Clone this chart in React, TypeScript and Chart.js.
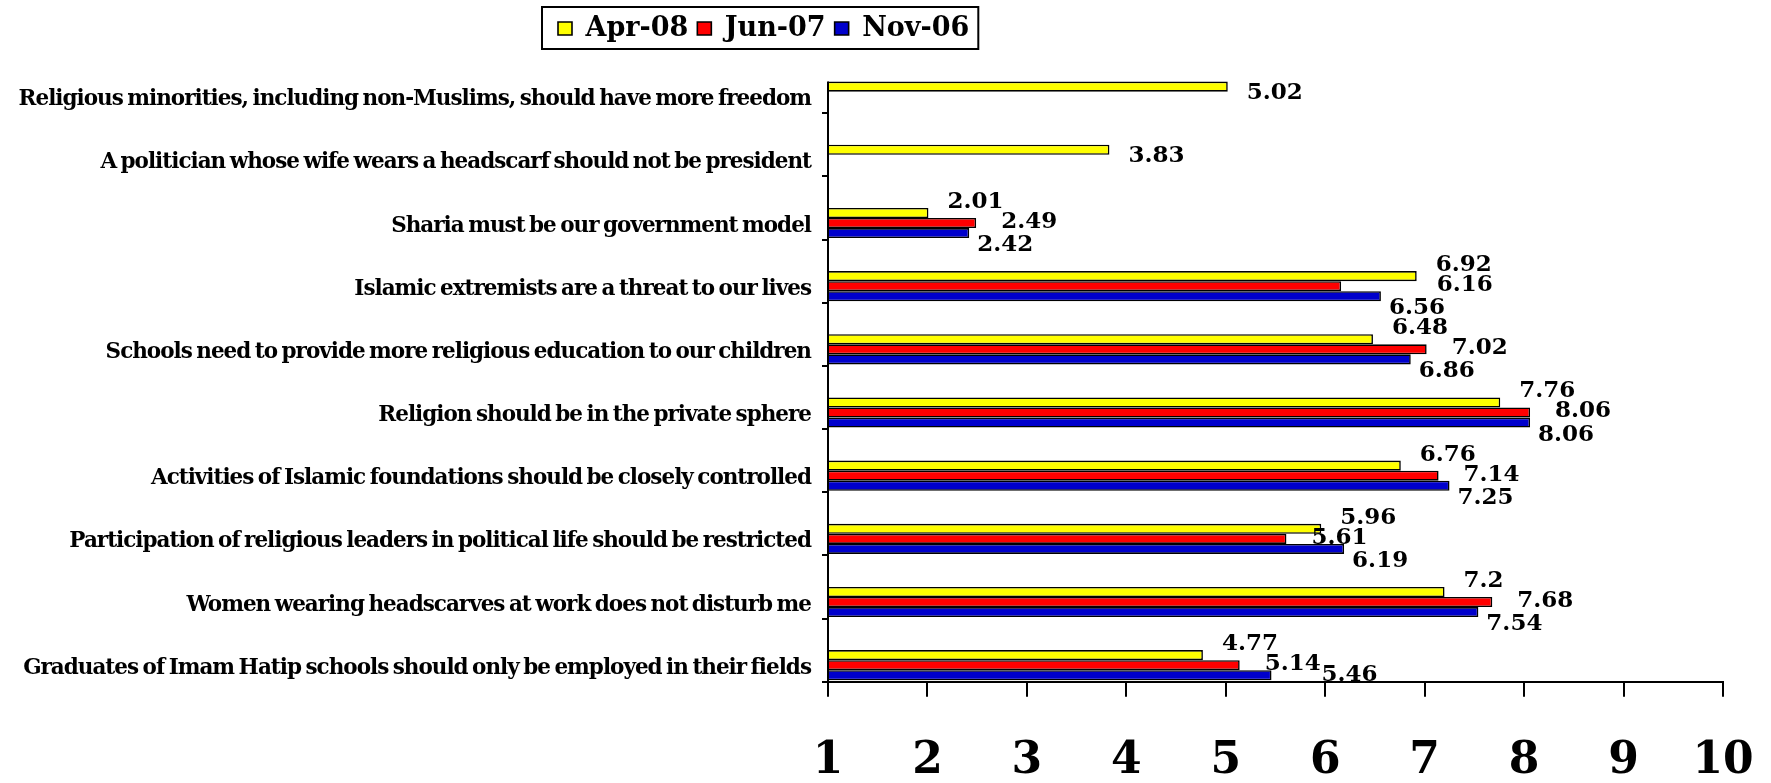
import React, { useEffect, useRef } from 'react';
import { Chart, registerables } from 'chart.js';

Chart.register(...registerables);

const categories = [
  'Religious minorities, including non-Muslims, should have more freedom',
  'A politician whose wife wears a headscarf should not be president',
  'Sharia must be our government model',
  'Islamic extremists are a threat to our lives',
  'Schools need to provide more religious education to our children',
  'Religion should be in the private sphere',
  'Activities of Islamic foundations should be closely controlled',
  'Participation of religious leaders in political life should be restricted',
  'Women wearing headscarves at work does not disturb me',
  'Graduates of Imam Hatip schools should only be employed in their fields',
];

const seriesNames = ['Apr-08', 'Jun-07', 'Nov-06'];
const apr08: (number | null)[] = [5.02, 3.83, 2.01, 6.92, 6.48, 7.76, 6.76, 5.96, 7.2, 4.77];
const jun07: (number | null)[] = [null, null, 2.49, 6.16, 7.02, 8.06, 7.14, 5.61, 7.68, 5.14];
const nov06: (number | null)[] = [null, null, 2.42, 6.56, 6.86, 8.06, 7.25, 6.19, 7.54, 5.46];
const xTicks = [1, 2, 3, 4, 5, 6, 7, 8, 9, 10];

const seriesColors = ['#FFFF00', '#FF0000', '#0000CC'];
const FONT = "'DejaVu Serif', 'Liberation Serif', serif";
const SPACERS = 3;
const HAS_LS =
  typeof CanvasRenderingContext2D !== 'undefined' &&
  'letterSpacing' in CanvasRenderingContext2D.prototype;

const legendPlacement = {
  id: 'legendPlacement',
  beforeInit(chart: any) {
    const lg = chart.legend;
    if (lg) {
      const fit = lg.fit;
      lg.fit = function () {
        fit.call(this);
        this.height = 50;
      };
    }
  },
  beforeDraw(chart: any) {
    const lg = chart.legend;
    if (lg) {
      const shift = 549 - lg.left;
      lg.left += shift;
      lg.right += shift;
      lg.top = 6;
      lg.bottom = lg.top + lg.height;
    }
    const y = chart.scales.y;
    if (y && HAS_LS && !y._lsPatched) {
      const orig = y.drawLabels;
      y.drawLabels = function (area: any) {
        const ctx = this.ctx;
        const pl = ctx.letterSpacing;
        const pw = ctx.wordSpacing;
        ctx.letterSpacing = '-1px';
        ctx.wordSpacing = '-2px';
        orig.call(this, area);
        ctx.letterSpacing = pl;
        ctx.wordSpacing = pw;
      };
      y._lsPatched = true;
    }
  },
  afterDraw(chart: any) {
    const lg = chart.legend;
    if (!lg || !lg.lineWidths) return;
    const pad = lg.options.labels.padding;
    const x0 = lg.left + pad - 16;
    const x1 = lg.left + lg.lineWidths[0] + 9;
    const ctx = chart.ctx;
    ctx.save();
    ctx.strokeStyle = '#000';
    ctx.lineWidth = 2;
    ctx.strokeRect(x0, 7, x1 - x0, 42);
    ctx.restore();
  },
};

const axisAndLabels = {
  id: 'axisAndLabels',
  afterDatasetsDraw(chart: any) {
    const ctx = chart.ctx;
    const area = chart.chartArea;
    // value axis line (starts at the top of the first bar)
    const first = chart.getDatasetMeta(SPACERS).data[0];
    ctx.save();
    ctx.strokeStyle = '#000';
    ctx.lineWidth = 2;
    ctx.beginPath();
    ctx.moveTo(area.left, first ? first.y - first.height / 2 : area.top);
    ctx.lineTo(area.left, area.bottom);
    ctx.stroke();
    ctx.restore();

    const series = [apr08, jun07, nov06];
    const dxs = [19, 25, 8];
    const dys = [-11, -1, 12];
    ctx.save();
    ctx.font = `bold 23px ${FONT}`;
    ctx.fillStyle = '#000';
    ctx.textAlign = 'left';
    ctx.textBaseline = 'middle';
    const metas = series.map((_, s) => chart.getDatasetMeta(SPACERS + s));
    series.forEach((vals, s) => {
      vals.forEach((v, i) => {
        if (v == null) return;
        const el = metas[s].data[i];
        if (!el) return;
        const alone = series.every((o, k) => k === s || o[i] == null);
        let x = el.x + dxs[s];
        let y = el.y + (alone ? 6 : dys[s]);
        if (s === 1) {
          const yel = metas[0].data[i];
          if (yel && yel.x - el.x > 50) x = yel.x + 20;
        }
        if (y + 8 > area.bottom) {
          y = el.y;
          x = el.x + 50;
        }
        ctx.fillText(String(v), x, y);
      });
    });
    ctx.restore();
  },
};

export default function App() {
  const ref = useRef<HTMLCanvasElement | null>(null);

  useEffect(() => {
    document.body.style.margin = '0';
    const canvas = ref.current;
    if (!canvas) return;
    const spacers = Array.from({ length: SPACERS }, () => ({
      label: '',
      data: categories.map(() => null),
      backgroundColor: 'rgba(0,0,0,0)',
      borderWidth: 0,
    }));
    const series = [apr08, jun07, nov06].map((vals, s) => ({
      label: seriesNames[s],
      data: vals,
      backgroundColor: seriesColors[s],
      borderColor: '#000',
      borderWidth: 1.6,
      borderSkipped: false,
    }));
    const chart = new Chart(canvas, {
      type: 'bar',
      data: { labels: categories, datasets: [...spacers, ...series] as any },
      options: {
        indexAxis: 'y',
        responsive: false,
        animation: false,
        categoryPercentage: 0.955,
        barPercentage: 1,
        layout: { padding: { left: 0, right: 48, top: 0, bottom: 0 } },
        plugins: {
          tooltip: { enabled: false },
          legend: {
            display: true,
            position: 'top',
            align: 'start',
            labels: {
              filter: (item: any) => item.text !== '',
              color: '#000',
              boxWidth: 14,
              boxHeight: 13,
              padding: 9,
              font: { family: FONT, size: 27, weight: 'bold' },
            },
          },
        },
        scales: {
          x: {
            type: 'linear',
            min: 1,
            max: 10,
            afterBuildTicks: (scale: any) => {
              scale.ticks = xTicks.map((v) => ({ value: v }));
            },
            afterFit: (scale: any) => {
              scale.height = 101.3;
              scale.paddingLeft = 0;
              scale.paddingRight = 0;
            },
            grid: { drawOnChartArea: false, drawTicks: true, tickLength: 15, color: '#000', lineWidth: 2 },
            border: { display: true, color: '#000', width: 2 },
            ticks: {
              color: '#000',
              font: { family: FONT, size: 44, weight: 'bold' },
              padding: 38,
              maxRotation: 0,
              autoSkip: false,
            },
          },
          y: {
            type: 'category',
            afterFit: (scale: any) => {
              scale.width = 828;
            },
            grid: {
              drawOnChartArea: false,
              offset: true,
              tickLength: 6,
              lineWidth: 2,
              color: (c: any) => (c.index === 0 ? 'rgba(0,0,0,0)' : '#000'),
            },
            border: { display: false },
            ticks: {
              color: '#000',
              font: { family: FONT, size: HAS_LS ? 21.5 : 19.5, weight: 'bold' },
              padding: 11,
              labelOffset: 18,
              autoSkip: false,
            },
          },
        },
      } as any,
      plugins: [legendPlacement, axisAndLabels],
    });
    return () => chart.destroy();
  }, []);

  return <canvas ref={ref} width={1771} height={783} style={{ display: 'block' }} />;
}
